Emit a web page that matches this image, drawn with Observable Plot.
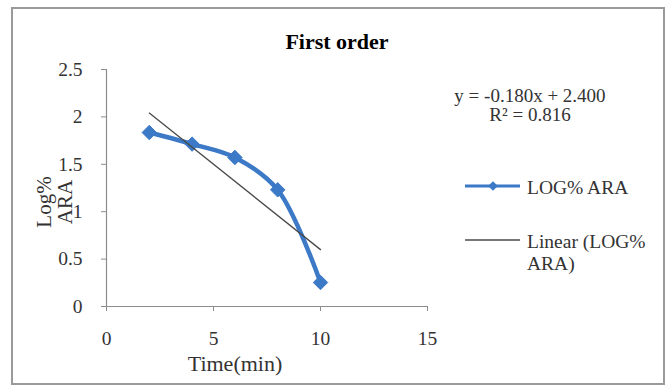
<!DOCTYPE html>
<html>
<head>
<meta charset="utf-8">
<script src="https://cdn.jsdelivr.net/npm/d3@7"></script>
<script src="https://cdn.jsdelivr.net/npm/@observablehq/plot@0.6"></script>
<style>
  html, body { margin: 0; padding: 0; background: #fff; }
  #chart svg { display: block; font-family: "Liberation Serif", "Times New Roman", serif; }
</style>
</head>
<body>
<div id="chart"></div>
<script>
// ---- data ----
const time = [2, 4, 6, 8, 10];
const logARA = [1.835, 1.713, 1.572, 1.231, 0.253];
const trendSlope = -0.180;
const trendIntercept = 2.400;
const trendRange = [2, 10];
const rSquared = 0.816;
const xTicks = [0, 5, 10, 15];
const yTicks = [0, 0.5, 1, 1.5, 2, 2.5];
const titleText = "First order";
const xLabel = "Time(min)";
const yLabelLines = ["Log%", "ARA"];
const seriesName = "LOG% ARA";
const trendNameLines = ["Linear (LOG%", "ARA)"];

const points = time.map((t, i) => ({ t, v: logARA[i] }));
const trend = trendRange.map(t => ({ t, v: trendSlope * t + trendIntercept }));

const blue = "#3c79c6";
const axisGray = "#8c8c8c";
const textCol = "#333333";

const W = 672, H = 387;
const plot = Plot.plot({
  width: W,
  height: H,
  marginLeft: 106,
  marginRight: 245,
  marginTop: 69,
  marginBottom: 81,
  style: { fontFamily: "Liberation Serif, serif", fontSize: "19.5px", background: "#fff", overflow: "visible" },
  x: { domain: [0, 15] },
  y: { domain: [0, 2.5] },
  marks: [
    Plot.axisX({ ticks: xTicks, tickSize: 5, tickPadding: 20, stroke: axisGray, fill: textCol, label: null, tickFormat: d => String(d) }),
    Plot.axisY({ ticks: yTicks, tickSize: 5, tickPadding: 19, stroke: axisGray, fill: textCol, label: null, tickFormat: d => String(d) }),
    Plot.ruleY([0], { stroke: axisGray, strokeWidth: 1.2 }),
    Plot.ruleX([0], { stroke: axisGray, strokeWidth: 1.2 }),
    Plot.line(points, { x: "t", y: "v", stroke: blue, strokeWidth: 4.5, curve: "catmull-rom" }),
    Plot.dot(points, { x: "t", y: "v", symbol: "diamond2", r: 6.5, fill: blue, stroke: blue, strokeWidth: 1 }),
    Plot.line(trend, { x: "t", y: "v", stroke: "#4a4a4a", strokeWidth: 1.3 })
  ]
});

document.getElementById("chart").appendChild(plot);
const svg = d3.select(plot);

// border
svg.insert("rect", ":first-child")
  .attr("x", 12).attr("y", 8).attr("width", 652).attr("height", 376)
  .attr("fill", "#fff").attr("stroke", "#9a9a9a").attr("stroke-width", 2);

// title
svg.append("text").attr("x", 337).attr("y", 49).attr("text-anchor", "middle")
  .attr("font-size", 22).attr("font-weight", "bold").attr("fill", "#000").text(titleText);

// x label
svg.append("text").attr("x", 235).attr("y", 371).attr("text-anchor", "middle")
  .attr("font-size", 22).attr("fill", textCol).text(xLabel);

// y label (two rotated lines)
yLabelLines.forEach((s, i) => {
  svg.append("text")
    .attr("transform", `translate(${51 + i * 21},202) rotate(-90)`)
    .attr("text-anchor", "middle").attr("font-size", 21).attr("fill", textCol).text(s);
});

// equation
svg.append("text").attr("x", 530).attr("y", 102).attr("text-anchor", "middle")
  .attr("font-size", 19).attr("fill", textCol)
  .text(`y = ${trendSlope.toFixed(3)}x + ${trendIntercept.toFixed(3)}`);
svg.append("text").attr("x", 530).attr("y", 121).attr("text-anchor", "middle")
  .attr("font-size", 19).attr("fill", textCol)
  .text(`R² = ${rSquared.toFixed(3)}`);

// legend
const lg = svg.append("g").attr("text-anchor", "start");
lg.append("line").attr("x1", 465).attr("x2", 520).attr("y1", 186).attr("y2", 186)
  .attr("stroke", blue).attr("stroke-width", 3);
lg.append("path").attr("d", d3.symbol(d3.symbolDiamond2, 60)()).attr("transform", "translate(493,186)")
  .attr("fill", blue);
lg.append("text").attr("x", 527).attr("y", 194).attr("text-anchor", "start").attr("font-size", 19.5).attr("fill", textCol).text(seriesName);
lg.append("line").attr("x1", 465).attr("x2", 520).attr("y1", 240).attr("y2", 240)
  .attr("stroke", "#4a4a4a").attr("stroke-width", 1.3);
trendNameLines.forEach((s, i) => {
  lg.append("text").attr("x", 527).attr("y", 248 + i * 22).attr("text-anchor", "start").attr("font-size", 19.5).attr("fill", textCol).text(s);
});
</script>
</body>
</html>
